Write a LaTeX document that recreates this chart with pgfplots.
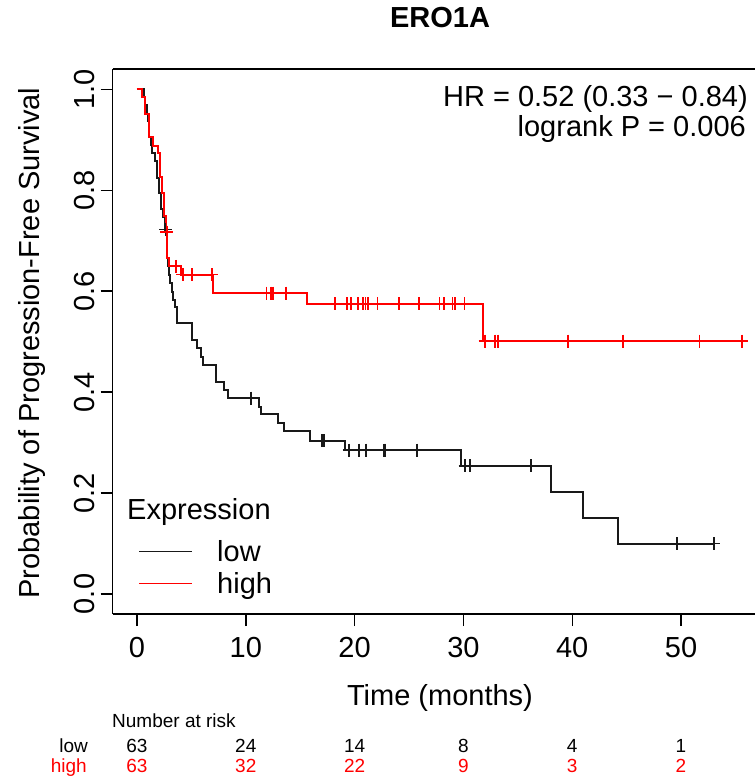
\documentclass[border=0pt]{standalone}
\usepackage{fontspec}
\setmainfont{Liberation Sans}
\usepackage{pgfplots}
\pgfplotsset{compat=1.18}
\definecolor{kmred}{RGB}{255,0,0}
\definecolor{kmblack}{RGB}{25,25,25}
\newcommand{\bigf}{\fontsize{29}{34}\selectfont}
\newcommand{\smf}{\fontsize{19}{22}\selectfont}
\begin{document}
\begin{tikzpicture}
\path[use as bounding box] (0,0) rectangle (755pt,779pt);
\begin{axis}[
  at={(112.7pt,164.8pt)}, anchor=south west,
  scale only axis, width=642.3pt, height=545.1pt,
  xmin=-2.233, xmax=56.8, ymin=-0.04, ymax=1.04,
  clip=false,
  axis lines*=left,
  axis line style={line width=1.4pt, black},
  tick align=outside, major tick length=12pt,
  tick style={line width=1.4pt, black},
  xtick={0,10,20,30,40,50}, xticklabels={0,10,20,30,40,50},
  ytick={0,0.2,0.4,0.6,0.8,1.0}, yticklabels={0.0,0.2,0.4,0.6,0.8,1.0},
  /pgf/number format/assume math mode=true,
  tick label style={font=\bigf, inner sep=0pt},
  xticklabel style={anchor=north},
  yticklabel style={rotate=90, anchor=south},
  xticklabel shift=11pt,
  yticklabel shift=6pt,
  title={ERO1A},
  title style={at={(axis description cs:0.5096,1.0662)}, anchor=base, inner sep=0pt, font=\bigf\bfseries},
  xlabel={Time (months)},
  xlabel style={at={(axis description cs:0.5096,-0.1684)}, anchor=base, inner sep=0pt, font=\bigf},
  ylabel={Probability of Progression-Free Survival},
  ylabel style={at={(axis description cs:-0.1147,0.4975)}, anchor=base, inner sep=0pt, font=\bigf},
]
% top frame line
\draw[line width=1.4pt, black] (rel axis cs:0,1) -- (rel axis cs:1,1);

% low expression (black)
\addplot[const plot, kmblack, line width=2pt] coordinates {
(0,1.000) (0.67,0.984) (0.75,0.968) (0.90,0.952) (1.00,0.937) (1.10,0.905)
(1.25,0.889) (1.40,0.873) (1.65,0.857) (1.85,0.825) (2.00,0.794) (2.20,0.762)
(2.40,0.746) (2.55,0.722) (2.75,0.690) (2.80,0.665) (2.85,0.649) (2.95,0.633)
(3.03,0.616) (3.19,0.599) (3.34,0.583) (3.49,0.568) (3.65,0.536) (5.08,0.503)
(5.55,0.487) (5.90,0.470) (6.03,0.454) (7.23,0.421) (8.00,0.404) (8.40,0.388)
(11.25,0.371) (11.40,0.356) (13.00,0.338) (13.50,0.322) (15.90,0.304)
(19.10,0.285) (29.75,0.254) (38.05,0.203) (40.96,0.151) (44.24,0.100) (53.00,0.100)
};
\addplot[only marks, mark=+, mark size=6.5pt, kmblack, mark options={line width=1.8pt}] coordinates {
(2.62,0.722) (10.45,0.388) (16.97,0.304) (17.19,0.304)
(19.51,0.285) (20.43,0.285) (21.02,0.285) (22.70,0.285) (22.79,0.285) (25.76,0.285)
(30.15,0.254) (30.60,0.254) (36.20,0.254) (49.60,0.100) (53.00,0.100)
};

% high expression (red)
\addplot[const plot, kmred, line width=2pt] coordinates {
(0,1.000) (0.49,0.984) (0.74,0.952) (1.13,0.905) (1.44,0.888) (1.90,0.873)
(2.11,0.827) (2.33,0.794) (2.51,0.748) (2.66,0.717) (2.79,0.665) (2.97,0.649)
(4.01,0.633) (7.02,0.596) (15.65,0.575) (31.80,0.501) (55.60,0.501)
};
\addplot[only marks, mark=+, mark size=6.5pt, kmred, mark options={line width=1.8pt}] coordinates {
(2.75,0.717) (3.55,0.649) (4.20,0.633) (5.08,0.633) (6.86,0.633)
(11.90,0.596) (12.30,0.596) (12.50,0.596) (13.70,0.596)
(18.20,0.575) (19.30,0.575) (19.65,0.575) (20.30,0.575) (20.80,0.575) (21.00,0.575)
(21.20,0.575) (22.10,0.575) (24.10,0.575) (25.90,0.575) (27.80,0.575) (28.20,0.575)
(29.00,0.575) (29.20,0.575) (30.10,0.575)
(32.00,0.501) (32.90,0.501) (33.15,0.501) (39.60,0.501) (44.70,0.501) (51.70,0.501) (55.60,0.501)
};
\end{axis}

% HR and logrank annotation
\node[anchor=base east, inner sep=0pt, font=\bigf] at (748pt,672pt) {HR = 0.52 (0.33 − 0.84)};
\node[anchor=base east, inner sep=0pt, font=\bigf] at (746pt,642pt) {logrank P = 0.006};

% legend
\node[anchor=base west, inner sep=0pt, font=\bigf] at (127pt,259.7pt) {Expression};
\draw[kmblack, line width=1.7pt] (139.3pt,227.5pt) -- (192.3pt,227.5pt);
\node[anchor=base west, inner sep=0pt, font=\bigf] at (217pt,217.3pt) {low};
\draw[kmred, line width=1.7pt] (139.3pt,195.5pt) -- (192.3pt,195.5pt);
\node[anchor=base west, inner sep=0pt, font=\bigf] at (217pt,185.7pt) {high};

% number at risk table
\node[anchor=base west, inner sep=0pt, font=\smf] at (112pt,51.5pt) {Number at risk};
\node[anchor=base east, inner sep=0pt, font=\smf] at (88pt,27pt) {low};
\node[anchor=base east, inner sep=0pt, font=\smf, text=kmred] at (87pt,6pt) {high};
\foreach \xx/\nl/\nh in {0/63/63, 1/24/32, 2/14/22, 3/8/9, 4/4/3, 5/1/2} {
  \node[anchor=base, inner sep=0pt, font=\smf] at ({137pt+108.8pt*\xx},27pt) {\nl};
  \node[anchor=base, inner sep=0pt, font=\smf, text=kmred] at ({137pt+108.8pt*\xx},6pt) {\nh};
}
\end{tikzpicture}
\end{document}
